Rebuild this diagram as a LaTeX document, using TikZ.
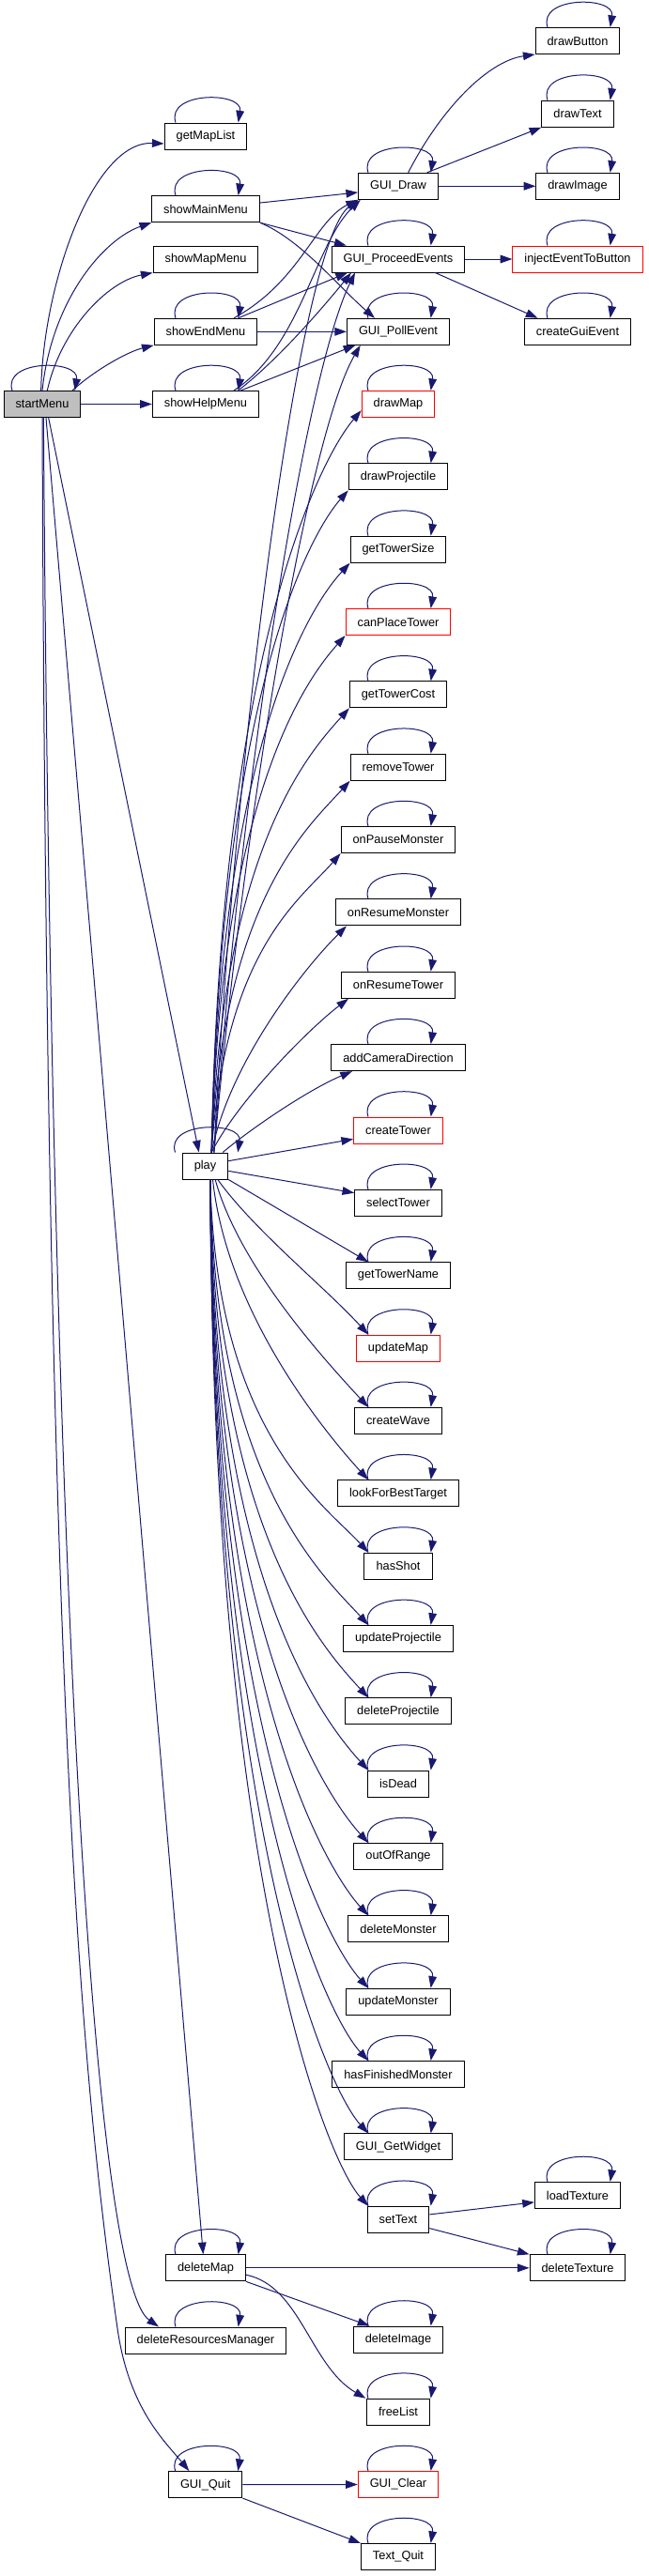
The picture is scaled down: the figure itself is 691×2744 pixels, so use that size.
\documentclass[tikz,border=0pt]{standalone}
\usepackage{fontspec}
\setmainfont{Liberation Sans}
\usetikzlibrary{arrows.meta}
\definecolor{edgeblue}{HTML}{191970}
\definecolor{rootgray}{HTML}{BFBFBF}
\tikzset{
  fn/.style={draw=black, fill=white, line width=0.75pt, minimum height=21pt,
    inner xsep=9.4pt, inner ysep=0pt, font=\fontsize{9.6}{11}\selectfont},
  cutoff/.style={fn, draw=red},
  root/.style={fn, fill=rootgray},
  call/.style={draw=edgeblue, line width=0.75pt, -{Triangle[length=9.5pt,width=6.5pt]}}
}
\newcommand{\selfcall}[1]{\draw[call] ([xshift=-24pt]#1.north) .. controls +(-8pt,25pt) and +(4pt,25pt) .. ([xshift=26pt]#1.north);}
\begin{document}
\begin{tikzpicture}[x=0.75pt,y=-0.75pt]
\useasboundingbox (0,0) rectangle (691,2744);

\node[root] (startMenu) at (45,430.5) {startMenu};

\node[fn] (getMapList) at (219,145) {getMapList};
\node[fn] (showMainMenu) at (219,222.7) {showMainMenu};
\node[fn] (showMapMenu) at (219,276) {showMapMenu};
\node[fn] (showEndMenu) at (219,353.3) {showEndMenu};
\node[fn] (showHelpMenu) at (219,430.5) {showHelpMenu};
\node[fn] (play) at (218.5,1242) {play};
\node[fn] (deleteMap) at (219,2415.8) {deleteMap};
\node[fn] (deleteResMgr) at (219,2493) {deleteResourcesManager};
\node[fn] (guiQuit) at (218.7,2646.6) {GUI\_Quit};

\node[fn] (guiDraw) at (424,198.3) {GUI\_Draw};
\node[fn] (guiProceed) at (424,276) {GUI\_ProceedEvents};
\node[fn] (guiPoll) at (424,353.3) {GUI\_PollEvent};
\node[cutoff] (drawMap) at (424,430.5) {drawMap};
\node[fn] (drawProjectile) at (424,507.85) {drawProjectile};
\node[fn] (getTowerSize) at (424,585.2) {getTowerSize};
\node[cutoff] (canPlaceTower) at (424,662.55) {canPlaceTower};
\node[fn] (getTowerCost) at (424,739.9) {getTowerCost};
\node[fn] (removeTower) at (424,817.25) {removeTower};
\node[fn] (onPauseMonster) at (424,894.6) {onPauseMonster};
\node[fn] (onResumeMonster) at (424,971.95) {onResumeMonster};
\node[fn] (onResumeTower) at (424,1049.3) {onResumeTower};
\node[fn] (addCameraDirection) at (424,1126.65) {addCameraDirection};
\node[cutoff] (createTower) at (424,1204) {createTower};
\node[fn] (selectTower) at (424,1281.35) {selectTower};
\node[fn] (getTowerName) at (424,1358.7) {getTowerName};
\node[cutoff] (updateMap) at (424,1436.05) {updateMap};
\node[fn] (createWave) at (424,1513.4) {createWave};
\node[fn] (lookForBestTarget) at (424,1590.75) {lookForBestTarget};
\node[fn] (hasShot) at (424,1668.1) {hasShot};
\node[fn] (updateProjectile) at (424,1745.45) {updateProjectile};
\node[fn] (deleteProjectile) at (424,1822.8) {deleteProjectile};
\node[fn] (isDead) at (424,1900.15) {isDead};
\node[fn] (outOfRange) at (424,1977.5) {outOfRange};
\node[fn] (deleteMonster) at (424,2054.85) {deleteMonster};
\node[fn] (updateMonster) at (424,2132.2) {updateMonster};
\node[fn] (hasFinishedMonster) at (424,2209.55) {hasFinishedMonster};
\node[fn] (guiGetWidget) at (424,2286.9) {GUI\_GetWidget};
\node[fn] (setText) at (424,2364.25) {setText};
\node[fn] (deleteImage) at (424,2492) {deleteImage};
\node[fn] (freeList) at (424,2569.2) {freeList};
\node[cutoff] (guiClear) at (424,2646.5) {GUI\_Clear};
\node[fn] (textQuit) at (424,2723.5) {Text\_Quit};

\node[fn] (drawButton) at (615,43.5) {drawButton};
\node[fn] (drawText) at (615,121.2) {drawText};
\node[fn] (drawImage) at (615,198.3) {drawImage};
\node[cutoff] (injectEvent) at (615,276) {injectEventToButton};
\node[fn] (createGuiEvent) at (615,353.3) {createGuiEvent};
\node[fn] (loadTexture) at (615,2338.5) {loadTexture};
\node[fn] (deleteTexture) at (615,2415.8) {deleteTexture};

\foreach \n in {startMenu,getMapList,showMainMenu,showEndMenu,showHelpMenu,play,
  deleteMap,deleteResMgr,guiQuit,guiDraw,guiProceed,guiPoll,drawMap,drawProjectile,
  getTowerSize,canPlaceTower,getTowerCost,removeTower,onPauseMonster,onResumeMonster,
  onResumeTower,addCameraDirection,createTower,selectTower,getTowerName,updateMap,
  createWave,lookForBestTarget,hasShot,updateProjectile,deleteProjectile,isDead,
  outOfRange,deleteMonster,updateMonster,hasFinishedMonster,guiGetWidget,setText,
  deleteImage,freeList,guiClear,textQuit,drawButton,drawText,drawImage,injectEvent,
  createGuiEvent,loadTexture,deleteTexture}
  {\selfcall{\n}}

\draw[call] ([xshift=-1pt]startMenu.north) .. controls (46,300) and (100,150) .. ([yshift=-6pt]getMapList.west);
\draw[call] (startMenu.north) .. controls (55,320) and (110,255) .. (showMainMenu.south west);
\draw[call] ([xshift=4pt]startMenu.north) .. controls (65,350) and (115,300) .. (showMapMenu.south west);
\draw[call] ([xshift=24pt]startMenu.north) .. controls (100,395) and (135,375) .. (showEndMenu.south west);
\draw[call] (startMenu.east) -- (showHelpMenu.west);
\draw[call] ([xshift=5pt]startMenu.south) -- ([xshift=-5pt]play.north);
\draw[call] ([xshift=3pt]startMenu.south) -- ([xshift=-2pt]deleteMap.north);
\draw[call] ([xshift=1pt]startMenu.south) .. controls (55,1700) and (100,2430) .. ([xshift=-37.5pt]deleteResMgr.north);
\draw[call] (startMenu.south) .. controls (50,1800) and (85,2200) .. (125,2480)
  .. controls (137,2565) and (175,2600) .. ([xshift=-13pt]guiQuit.north);

\draw[call] ([yshift=5pt]showMainMenu.east) -- ([yshift=-5pt]guiDraw.west);
\draw[call] (showMainMenu.south east) -- ([xshift=12pt]guiProceed.north west);
\draw[call] (showMainMenu.south east) .. controls (320,255) and (360,305) .. ([xshift=22.5pt]guiPoll.north west);

\draw[call] ([xshift=22.5pt]showEndMenu.north) .. controls (320,300) and (335,235) .. (guiDraw.south west);
\draw[call] ([xshift=26pt]showEndMenu.north) -- ([xshift=13pt]guiProceed.south west);
\draw[call] (showEndMenu.east) -- (guiPoll.west);

\draw[call] ([xshift=22.5pt]showHelpMenu.north) .. controls (320,370) and (335,260) .. ([xshift=2pt]guiDraw.south west);
\draw[call] ([xshift=26pt]showHelpMenu.north) .. controls (300,380) and (350,320) .. ([xshift=16pt]guiProceed.south west);
\draw[call] ([xshift=28pt]showHelpMenu.north) -- ([xshift=7pt]guiPoll.south west);

\draw[call] ([xshift=8pt]guiDraw.north) .. controls (470,115) and (520,65) .. (drawButton.south west);
\draw[call] ([xshift=23pt]guiDraw.north) -- (drawText.south west);
\draw[call] (guiDraw.east) -- (drawImage.west);
\draw[call] (guiProceed.east) -- (injectEvent.west);
\draw[call] ([xshift=-24pt]guiProceed.south east) -- ([xshift=11pt]createGuiEvent.north west);

\draw[call] ([xshift=7pt]play.north) .. controls (250,800) and (318,262) .. (guiDraw.south west);
\draw[call] ([xshift=7pt]play.north) .. controls (258,820) and (325,400) .. ([xshift=19pt]guiProceed.south west);
\draw[call] ([xshift=7pt]play.north) .. controls (262,850) and (330,460) .. ([xshift=11pt]guiPoll.south west);
\draw[call] ([xshift=5pt]play.north) .. controls (235,690) and (342,487) .. ([yshift=-5pt]drawMap.west);
\draw[call] ([xshift=5pt]play.north) .. controls (235,748) and (327,572) .. (drawProjectile.south west);
\draw[call] ([xshift=5pt]play.north) .. controls (235,800) and (327,649) .. (getTowerSize.south west);
\draw[call] ([xshift=5pt]play.north) .. controls (235,853) and (323,727) .. (canPlaceTower.south west);
\draw[call] ([xshift=5pt]play.north) .. controls (237,906) and (327,804) .. (getTowerCost.south west);
\draw[call] ([xshift=5pt]play.north) .. controls (238,958) and (328,881) .. (removeTower.south west);
\draw[call] ([xshift=5pt]play.north) .. controls (240,1011) and (319,959) .. (onPauseMonster.south west);
\draw[call] ([xshift=5pt]play.north) .. controls (245,1130) and (325,1030) .. ([xshift=9pt]onResumeMonster.south west);
\draw[call] ([xshift=5pt]play.north) .. controls (255,1170) and (330,1095) .. ([xshift=6pt]onResumeTower.south west);
\draw[call] ([xshift=14pt]play.north) .. controls (270,1200) and (330,1160) .. ([xshift=17pt]addCameraDirection.south west);
\draw[call] ([yshift=4pt]play.east) -- ([yshift=-7pt]createTower.west);
\draw[call] ([yshift=-4pt]play.east) -- ([yshift=8pt]selectTower.west);
\draw[call] (play.south east) -- ([xshift=-24pt]getTowerName.north);
\draw[call] ([xshift=10pt]play.south) .. controls (270,1310) and (347,1372) .. ([xshift=-24pt]updateMap.north);
\draw[call] ([xshift=8pt]play.south) .. controls (255,1350) and (347,1450) .. ([xshift=-24pt]createWave.north);
\draw[call] ([xshift=6pt]play.south) .. controls (242,1400) and (347,1527) .. ([xshift=-24pt]lookForBestTarget.north);
\draw[call] ([xshift=4pt]play.south) .. controls (230,1527) and (347,1604) .. ([xshift=-24pt]hasShot.north);
\draw[call] ([xshift=4pt]play.south) .. controls (228,1579) and (347,1681) .. ([xshift=-24pt]updateProjectile.north);
\draw[call] ([xshift=4pt]play.south) .. controls (227,1632) and (347,1759) .. ([xshift=-24pt]deleteProjectile.north);
\draw[call] ([xshift=4pt]play.south) .. controls (226,1685) and (347,1836) .. ([xshift=-24pt]isDead.north);
\draw[call] ([xshift=4pt]play.south) .. controls (226,1737) and (347,1913) .. ([xshift=-24pt]outOfRange.north);
\draw[call] ([xshift=4pt]play.south) .. controls (226,1790) and (347,1991) .. ([xshift=-24pt]deleteMonster.north);
\draw[call] ([xshift=4pt]play.south) .. controls (226,1842) and (347,2068) .. ([xshift=-24pt]updateMonster.north);
\draw[call] ([xshift=4pt]play.south) .. controls (226,1895) and (347,2146) .. ([xshift=-24pt]hasFinishedMonster.north);
\draw[call] ([xshift=4pt]play.south) .. controls (226,1948) and (347,2223) .. ([xshift=-24pt]guiGetWidget.north);
\draw[call] ([xshift=4pt]play.south) .. controls (226,2000) and (347,2300) .. ([xshift=-24pt]setText.north);

\draw[call] ([yshift=4pt]setText.east) -- ([yshift=-5.5pt]loadTexture.west);
\draw[call] ([yshift=-7pt]setText.east) -- (deleteTexture.north west);
\draw[call] (deleteMap.east) -- (deleteTexture.west);
\draw[call] (deleteMap.south east) -- ([xshift=-23pt]deleteImage.north);
\draw[call] ([yshift=-5.5pt]deleteMap.east) .. controls (320,2435) and (330,2520) .. ([xshift=-26pt]freeList.north);
\draw[call] (guiQuit.east) -- (guiClear.west);
\draw[call] (guiQuit.south east) -- (textQuit.north west);
\end{tikzpicture}
\end{document}
